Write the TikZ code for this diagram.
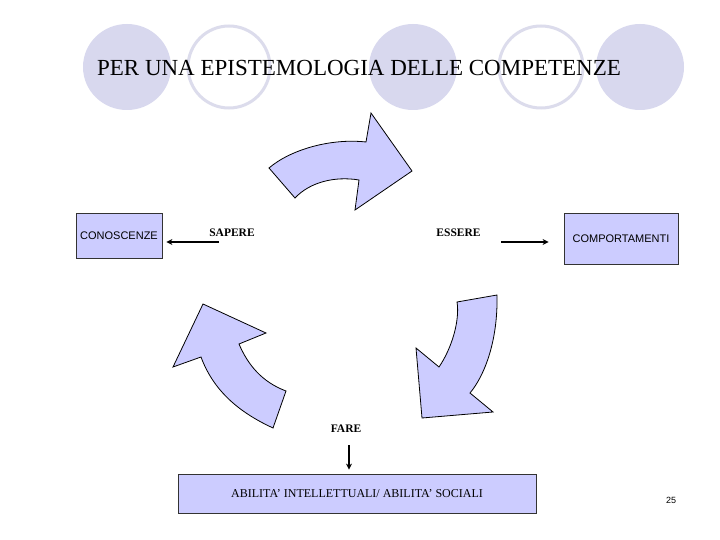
\documentclass[tikz,border=0pt]{standalone}
\usepackage{fontspec}
\setmainfont{Liberation Serif}
\setsansfont{Liberation Sans}
\usetikzlibrary{arrows.meta}
\definecolor{deco}{HTML}{D8D8EE}
\definecolor{decoline}{HTML}{DCDCEC}
\definecolor{peri}{HTML}{CCCCFF}
\tikzset{
  decofill/.style={fill=deco, draw=none},
  decoring/.style={draw=decoline, line width=3pt, fill=none},
  bigarrow/.style={fill=peri, draw=black, line width=0.8pt, line join=miter},
  box/.style={fill=peri, draw=black!80, line width=0.8pt, inner sep=0pt},
  lbl/.style={font=\fontsize{11.5}{13}\selectfont\bfseries, inner sep=0pt},
  conn/.style={line width=1.6pt, -{Stealth[length=6pt,width=6pt]}}
}
\begin{document}
\begin{tikzpicture}[x=1pt,y=-1pt]
\useasboundingbox (0,0) rectangle (720,540);
\fill[white] (0,0) rectangle (720,540);
% decorative circles
\fill[deco] (127,67) ellipse [x radius=44, y radius=43];
\draw[decoring] (229,67) ellipse [x radius=41, y radius=41];
\fill[deco] (413,67) ellipse [x radius=44, y radius=43];
\draw[decoring] (541,67) ellipse [x radius=42, y radius=41];
\fill[deco] (640,67) ellipse [x radius=44, y radius=43];
\node[inner sep=0pt, font=\fontsize{23}{26}\selectfont] (title) at (359,68) {PER UNA EPISTEMOLOGIA DELLE COMPETENZE};
% big curved arrows
\draw[bigarrow] (269,168) .. controls (290,150) and (330,138) .. (366,142) -- (371,113) -- (412,171) -- (355,210) -- (359,180) .. controls (335,176) and (310,182) .. (295,198) -- cycle;
\draw[bigarrow] (203,304) -- (266,333) -- (239,344) .. controls (248,365) and (262,382) .. (286,391) -- (273,428) .. controls (245,415) and (215,395) .. (201,357) -- (173,367) -- cycle;
\draw[bigarrow] (497,295) -- (457,302) .. controls (460,320) and (452,348) .. (439,367) -- (416,348) -- (422,418) -- (493,412) -- (470,393) .. controls (485,375) and (498,340) .. (497,295) -- cycle;
% boxes
\node[box, minimum width=86pt, minimum height=45pt, font=\sffamily\fontsize{11}{13}\selectfont] (cono) at (119,235.5) {CONOSCENZE};
\node[box, minimum width=114pt, minimum height=51pt, font=\sffamily\fontsize{11}{13}\selectfont] (comp) at (621,238.5) {COMPORTAMENTI};
\node[box, minimum width=358pt, minimum height=39pt, font=\fontsize{12}{14}\selectfont] (abil) at (357,493.5) {ABILITA’ INTELLETTUALI/ ABILITA’ SOCIALI};
% labels
\node[lbl] (sapere) at (232,233) {SAPERE};
\node[lbl] (essere) at (458.5,233) {ESSERE};
\node[lbl] (fare) at (346,429) {FARE};
\node[inner sep=0pt, font=\sffamily\fontsize{9}{10}\selectfont] (num) at (671,500) {25};
% connectors
\coordinate (sapA) at (219,242);
\coordinate (essA) at (501,242);
\coordinate (farA) at (349,445);
\draw[conn, shorten >=4pt] (sapA) -- (cono.east |- sapA);
\draw[conn, shorten >=15pt] (essA) -- (comp.west |- essA);
\draw[conn, shorten >=4pt] (farA) -- (abil.north -| farA);
\end{tikzpicture}
\end{document}
